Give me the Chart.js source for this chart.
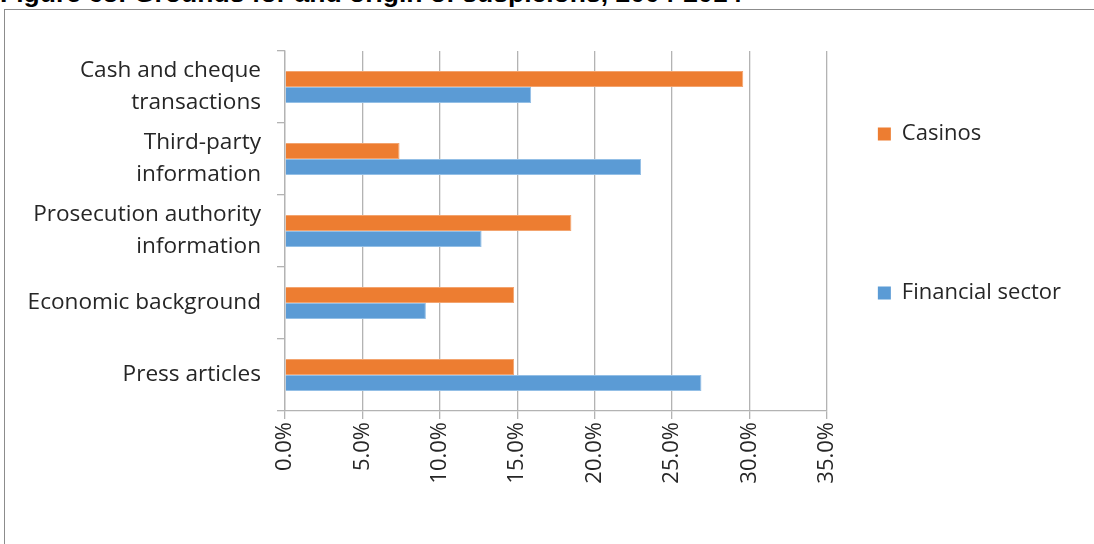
<!DOCTYPE html>
<html><head><meta charset="utf-8">
<script src="https://cdn.jsdelivr.net/npm/chart.js@4"></script>
<style>
html,body{margin:0;padding:0;background:#fff;width:1094px;height:544px;overflow:hidden;position:relative;}
#title{position:absolute;left:0px;top:-20px;font:bold 26.5px "Liberation Sans",Arial,sans-serif;line-height:26px;color:#000;white-space:nowrap;}
#frame{position:absolute;left:4px;top:9px;width:1200px;height:700px;border:1px solid #8c8c8c;box-sizing:border-box;}
#wrap{position:absolute;left:0;top:0;width:1094px;height:544px;}
</style></head>
<body>
<div id="title">Figure 63: Grounds for and origin of suspicions, 2004-2014</div>
<div id="frame"></div>
<div id="wrap"><canvas id="c"></canvas></div>
<script>
const categories = [["Cash and cheque","transactions"],["Third-party","information"],["Prosecution authority","information"],"Economic background","Press articles"];
const casinos = [29.6, 7.4, 18.5, 14.8, 14.8];
const financial = [15.9, 23.0, 12.7, 9.1, 26.9];
const seriesNames = ["Casinos","Financial sector"];
const tickValues = [0,5,10,15,20,25,30,35];

const FONT = '"Open Sans", sans-serif';
const TXT = '#262626';

function draw(){
  new Chart(document.getElementById('c'), {
    type:'bar',
    data:{labels:categories, datasets:[
      {label:seriesNames[0], data:casinos, backgroundColor:'#ED7D31', borderColor:'#F3A46F', borderWidth:1, categoryPercentage:0.444, barPercentage:1},
      {label:seriesNames[1], data:financial, backgroundColor:'#5B9BD5', borderColor:'#93BFE6', borderWidth:1, categoryPercentage:0.444, barPercentage:1}
    ]},
    options:{
      indexAxis:'y', responsive:true, maintainAspectRatio:false, animation:false,
      layout:{padding:{top:51,left:0,right:23,bottom:0}},
      plugins:{
        tooltip:{enabled:false},
        legend:{position:'right', align:'end',
          labels:{boxWidth:13, boxHeight:13, padding:51, color:TXT,
            font:{family:FONT, size:22, lineHeight:'1px'},
            generateLabels:(chart)=>{
              const items = Chart.defaults.plugins.legend.labels.generateLabels(chart);
              items.forEach(it=>{it.strokeStyle=it.fillStyle; it.lineWidth=0;});
              const sp = n => ({text:Array(n).fill(''), fillStyle:'rgba(0,0,0,0)', strokeStyle:'rgba(0,0,0,0)', lineWidth:0, hidden:false, datasetIndex:-1});
              return [items[0], sp(35), items[1], sp(138)];
            }}}
      },
      scales:{
        x:{min:0,max:35, afterBuildTicks:(ax)=>{ax.ticks=tickValues.map(v=>({value:v}));},
          afterFit:(s)=>{s.height=133;},
          ticks:{minRotation:90,maxRotation:90,color:TXT,padding:3,font:{family:FONT,size:22},callback:(v)=>Number(v).toFixed(1)+'%'},
          grid:{color:'#b3b3b3',lineWidth:1.3,tickLength:8,drawTicks:true},
          border:{color:'#b3b3b3',width:1.3}},
        y:{offset:true,
          afterFit:(s)=>{s.width=285;},
          ticks:{color:TXT,padding:16,font:{family:FONT,size:22.6,lineHeight:1.42}},
          grid:{offset:true,drawOnChartArea:false,color:'#b3b3b3',lineWidth:1.3,tickLength:8},
          border:{color:'#b3b3b3',width:1.3}}
      }
    }
  });
}
Promise.all([document.fonts.load('22px "Open Sans"'), document.fonts.load('bold 26px "Liberation Sans"')]).then(draw, draw);
</script>
</body></html>
